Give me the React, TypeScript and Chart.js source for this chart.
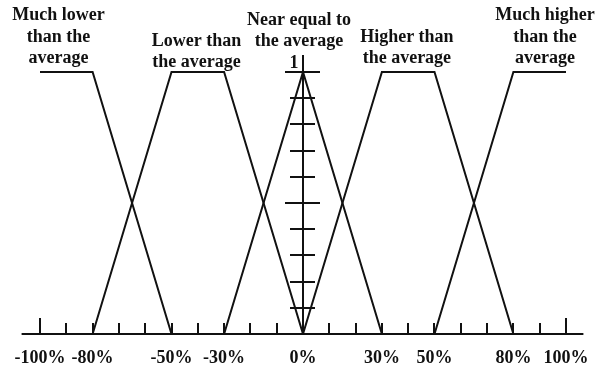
import React, { useEffect, useRef } from "react";
import { Chart, registerables } from "chart.js";

Chart.register(...registerables);

// ---- data ----
const xTickValues = [-100, -90, -80, -70, -60, -50, -40, -30, -20, -10, 10, 20, 30, 40, 50, 60, 70, 80, 90, 100];
const xMajorTicks = [-100, 100];
const xLabelValues = [-100, -80, -50, -30, 0, 30, 50, 80, 100];
const xLabelTexts = ["-100%", "-80%", "-50%", "-30%", "0%", "30%", "50%", "80%", "100%"];
const yTickValues = [0.1, 0.2, 0.3, 0.4, 0.5, 0.6, 0.7, 0.8, 0.9, 1.0];
const yMajorTicks = [0.5, 1.0];
const yTopLabel = "1";

const muchLowerX = [-100, -80, -50];
const muchLowerY = [1, 1, 0];
const lowerX = [-80, -50, -30, 0];
const lowerY = [0, 1, 1, 0];
const nearEqualX = [-30, 0, 30];
const nearEqualY = [0, 1, 0];
const higherX = [0, 30, 50, 80];
const higherY = [0, 1, 1, 0];
const muchHigherX = [50, 80, 100];
const muchHigherY = [0, 1, 1];

const categoryLines = [
  ["Much lower", "than the", "average"],
  ["Lower than", "the average"],
  ["Near equal to", "the average"],
  ["Higher than", "the average"],
  ["Much higher", "than the", "average"],
];
const seriesX = [muchLowerX, lowerX, nearEqualX, higherX, muchHigherX];
const seriesY = [muchLowerY, lowerY, nearEqualY, higherY, muchHigherY];

// label anchors (in data units)
const labelCenterX = [-93, -40.5, -1.5, 39.5, 92];
const labelBaseY = [1.034, 1.019, 1.099, 1.034, 1.034];

const FONT = 'bold 18px "Liberation Serif", "Times New Roman", serif';
const INK = "#111";

const overlayPlugin = {
  id: "fuzzyOverlay",
  beforeDatasetsDraw(chart: any) {
    const { ctx, chartArea, scales } = chart;
    const xs = scales.x;
    const ys = scales.y;
    const y0 = ys.getPixelForValue(0);
    const x0 = xs.getPixelForValue(0);
    ctx.save();
    ctx.strokeStyle = INK;
    ctx.lineWidth = 2;
    ctx.lineCap = "butt";
    // horizontal axis
    ctx.beginPath();
    ctx.moveTo(chartArea.left, y0);
    ctx.lineTo(chartArea.right - 1, y0);
    ctx.stroke();
    // x tick marks (upward)
    xTickValues.forEach((v) => {
      const px = Math.round(xs.getPixelForValue(v));
      const len = xMajorTicks.includes(v) ? 16 : 11;
      ctx.beginPath();
      ctx.moveTo(px, y0);
      ctx.lineTo(px, y0 - len);
      ctx.stroke();
    });
    // vertical axis
    ctx.beginPath();
    ctx.moveTo(x0, y0);
    ctx.lineTo(x0, ys.getPixelForValue(1.065));
    ctx.stroke();
    // y tick marks
    yTickValues.forEach((v) => {
      const py = Math.round(ys.getPixelForValue(v));
      const major = yMajorTicks.includes(v);
      const l = major ? 18 : 13;
      const r = major ? 17 : 12;
      ctx.beginPath();
      ctx.moveTo(x0 - l, py);
      ctx.lineTo(x0 + r, py);
      ctx.stroke();
    });
    ctx.restore();
  },
  afterDatasetsDraw(chart: any) {
    const { ctx, scales } = chart;
    const xs = scales.x;
    const ys = scales.y;
    ctx.save();
    ctx.fillStyle = INK;
    ctx.font = FONT;
    ctx.textAlign = "center";
    ctx.textBaseline = "alphabetic";
    // x labels
    const yBase = ys.getPixelForValue(0) + 29;
    xLabelValues.forEach((v, i) => {
      ctx.fillText(xLabelTexts[i], xs.getPixelForValue(v), yBase);
    });
    // y top label
    ctx.fillText(yTopLabel, xs.getPixelForValue(0) - 9, ys.getPixelForValue(1) - 4);
    // category labels
    categoryLines.forEach((lines, k) => {
      const cx = xs.getPixelForValue(labelCenterX[k]);
      const by = ys.getPixelForValue(labelBaseY[k]);
      const n = lines.length;
      lines.forEach((t, i) => {
        ctx.fillText(t, cx, by - (n - 1 - i) * 21.5);
      });
    });
    ctx.restore();
  },
};

export default function App() {
  const ref = useRef<HTMLCanvasElement | null>(null);
  useEffect(() => {
    if (!ref.current) return;
    const datasets = categoryLines.map((lines, k) => ({
      label: lines.join(" "),
      data: seriesX[k].map((x, i) => ({ x, y: seriesY[k][i] })),
      borderColor: INK,
      borderWidth: 2,
      pointRadius: 0,
      tension: 0,
      fill: false,
      clip: false as any,
    }));
    const chart = new Chart(ref.current, {
      type: "line",
      data: { datasets },
      options: {
        responsive: false,
        animation: false,
        layout: { padding: { left: 21.6, right: 12.6, top: 19.6, bottom: 33 } },
        scales: {
          x: { type: "linear", min: -107, max: 107, display: false },
          y: { type: "linear", min: 0, max: 1.2, display: false },
        },
        plugins: {
          legend: { display: false },
          tooltip: { enabled: false },
        },
      },
      plugins: [overlayPlugin],
    } as any);
    return () => chart.destroy();
  }, []);
  return (
    <div style={{ position: "absolute", left: 0, top: 0, width: 597, height: 367, background: "#fff" }}>
      <canvas ref={ref} width={597} height={367} style={{ width: 597, height: 367, display: "block" }} />
    </div>
  );
}
